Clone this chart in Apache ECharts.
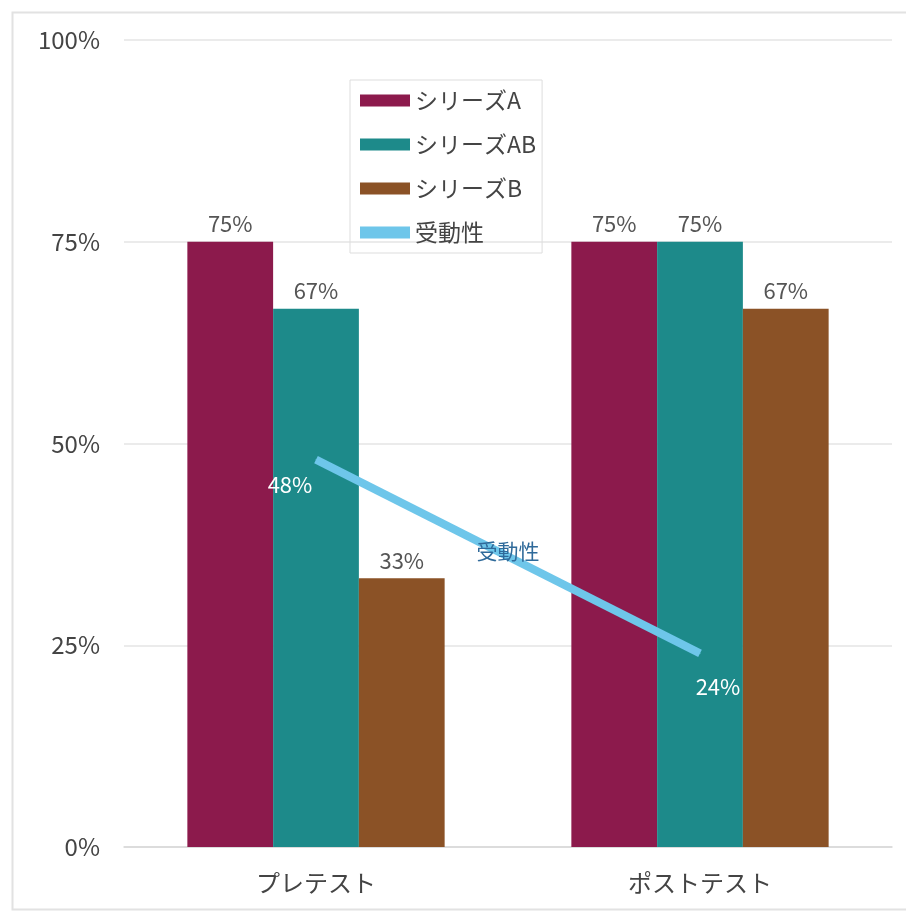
<!DOCTYPE html>
<html>
<head>
<meta charset="utf-8">
<script src="https://cdn.jsdelivr.net/npm/echarts@6/dist/echarts.min.js"></script>
<style>
  html, body { margin: 0; padding: 0; background: #fff; }
  #chart { width: 906px; height: 915px; }
</style>
</head>
<body>
<div id="chart"></div>
<script>
const categories = ['プレテスト', 'ポストテスト'];
const seriesA = [0.75, 0.75];
const seriesAB = [0.667, 0.75];
const seriesB = [0.333, 0.667];
const passivity = [0.48, 0.24];
const yTicks = [0, 0.25, 0.5, 0.75, 1];

const FONT = '"Noto Sans CJK JP", "Noto Sans", sans-serif';
const pct = v => Math.round(v * 100) + '%';

const chart = echarts.init(document.getElementById('chart'), null, { renderer: 'canvas' });

function barSeries(name, data, color) {
  return {
    name, type: 'bar', data,
    barGap: '0%', barCategoryGap: '33%',
    itemStyle: { color },
    label: {
      show: true, position: 'top', distance: 7,
      formatter: p => pct(p.value),
      color: '#555', fontSize: 22, fontFamily: FONT
    }
  };
}

chart.setOption({
  animation: false,
  textStyle: { fontFamily: FONT },
  grid: { left: 124, right: 14, top: 40, bottom: 68 },
  legend: {
    orient: 'vertical', left: 350, top: 80,
    padding: [9, 6, 9, 10],
    borderColor: '#ddd', borderWidth: 1,
    itemWidth: 50, itemHeight: 12, itemGap: 21,
    icon: 'rect',
    textStyle: { fontSize: 23, color: '#444', fontFamily: FONT },
    data: ['シリーズA', 'シリーズAB', 'シリーズB',
      { name: '受動性', itemStyle: { color: '#6ec6ea' } }]
  },
  xAxis: {
    type: 'category', data: categories,
    axisTick: { show: false },
    axisLine: { lineStyle: { color: '#d8d8d8', width: 1.5 } },
    axisLabel: { fontSize: 24, color: '#444', margin: 24, fontFamily: FONT }
  },
  yAxis: {
    type: 'value', min: 0, max: 1, interval: 0.25,
    axisLabel: {
      fontSize: 24, color: '#444', margin: 24, fontFamily: FONT,
      formatter: v => yTicks.includes(v) ? pct(v) : ''
    },
    splitLine: { lineStyle: { color: '#e4e4e4', width: 1.5 } }
  },
  series: [
    barSeries('シリーズA', seriesA, '#8c1a4c'),
    barSeries('シリーズAB', seriesAB, '#1d8a8a'),
    barSeries('シリーズB', seriesB, '#8b5226'),
    {
      name: '受動性', type: 'line', data: passivity,
      symbol: 'circle', symbolSize: 1, showSymbol: true, z: 5,
      lineStyle: { color: '#6ec6ea', width: 8, cap: 'butt' },
      itemStyle: { color: '#6ec6ea' },
      label: {
        show: true, position: 'inside', color: '#fff', fontSize: 22, fontFamily: FONT,
        formatter: p => pct(p.value)
      },
      labelLayout: p => p.dataIndex === 0 ? { dx: -26, dy: 25 } : { dx: 18, dy: 33 }
    }
  ]
});

// Series name written beside the middle of the passivity line
const p0 = chart.convertToPixel({ seriesIndex: 3 }, [0, passivity[0]]);
const p1 = chart.convertToPixel({ seriesIndex: 3 }, [1, passivity[1]]);
chart.setOption({
  graphic: [
    {
      type: 'rect', left: 10, top: 10, silent: true, z: -10,
      shape: { x: 0, y: 0, width: 900, height: 897 },
      style: { fill: 'none', stroke: '#e2e2e2', lineWidth: 2 }
    },
    {
      type: 'text', z: 10,
      x: (p0[0] + p1[0]) / 2, y: (p0[1] + p1[1]) / 2 - 5,
      style: {
        text: '受動性', fill: '#2f6a9a', fontSize: 21, fontFamily: FONT,
        align: 'center', verticalAlign: 'middle'
      }
    }
  ]
});
</script>
</body>
</html>
